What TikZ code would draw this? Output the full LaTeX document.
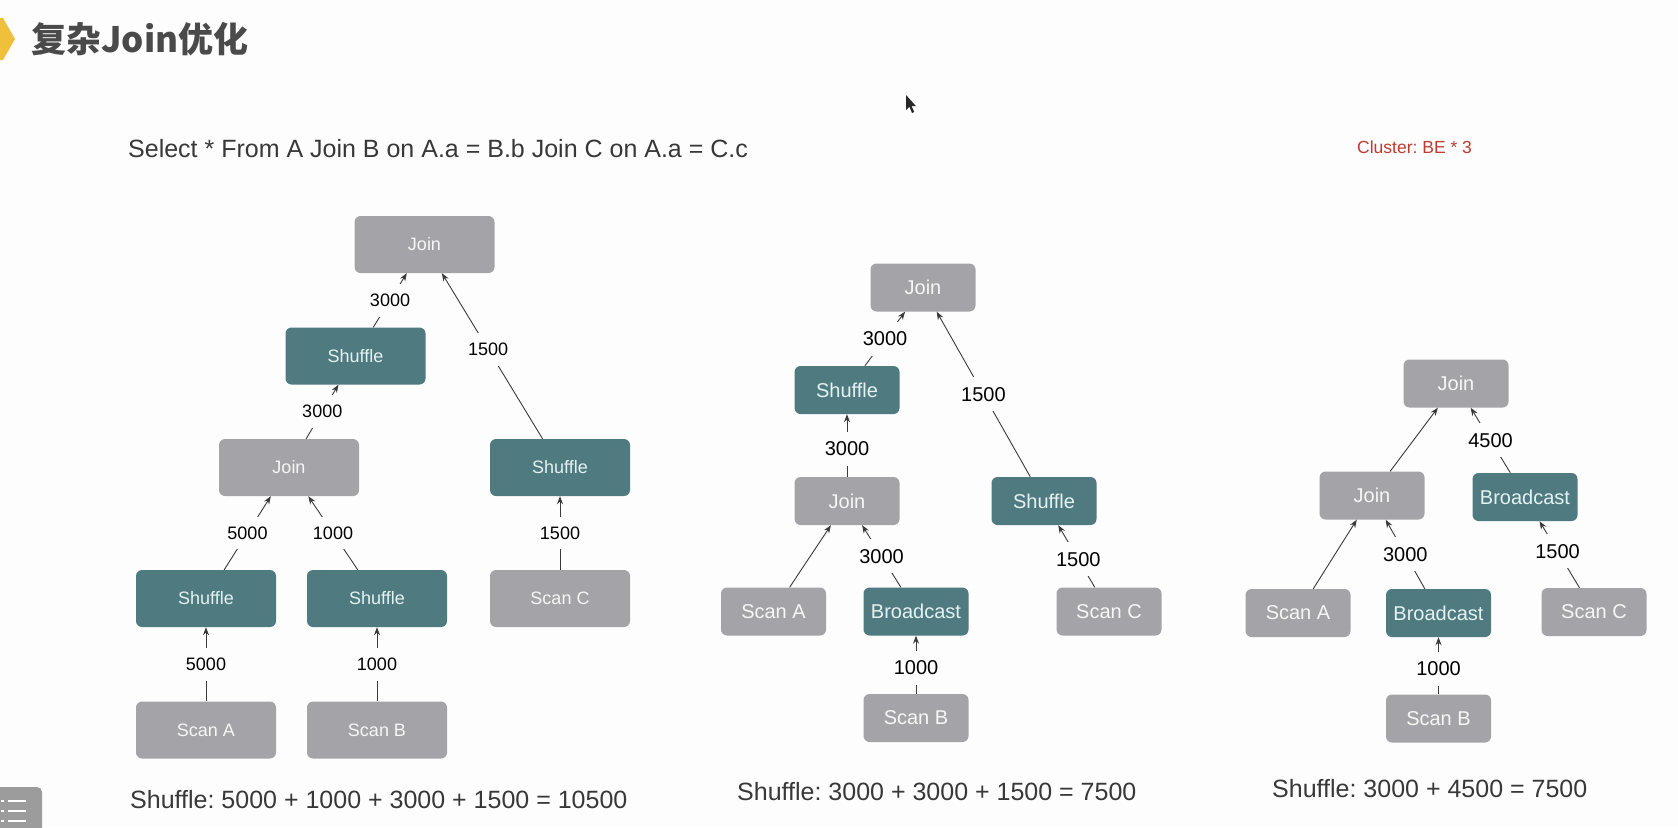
\documentclass[tikz,border=0pt]{standalone}
\usepackage{fontspec}
\setmainfont{Liberation Sans}
\newfontfamily\cjkfont{Noto Sans CJK SC}
\usetikzlibrary{arrows.meta}
\frenchspacing

\definecolor{pagebg}{HTML}{FDFDFD}
\definecolor{boxgrey}{HTML}{A4A3A7}
\definecolor{boxteal}{HTML}{4F7A80}
\definecolor{greytxt}{HTML}{F6F6F6}
\definecolor{tealtxt}{HTML}{E4F2F2}
\definecolor{inkdark}{HTML}{383838}
\definecolor{edgeink}{HTML}{3A3A3A}
\definecolor{clusterred}{HTML}{BF3B30}
\definecolor{titleink}{HTML}{4A4A4A}
\definecolor{marker}{HTML}{F0BF3C}
\definecolor{icongrey}{HTML}{9C9C9C}

\tikzset{
  plan/.style={rectangle, rounded corners=6pt, inner sep=0pt},
  bigbox/.style={plan, minimum width=140pt, minimum height=57pt, font=\fontsize{18}{20}\selectfont},
  smallbox/.style={plan, minimum width=105pt, minimum height=48pt, font=\fontsize{20}{22}\selectfont},
  gry/.style={fill=boxgrey, text=greytxt},
  tel/.style={fill=boxteal, text=tealtxt},
  flow/.style={draw=edgeink, line width=0.9pt, -{Stealth[length=8pt,width=6pt]}},
  cnt/.style={fill=pagebg, inner xsep=3pt, inner ysep=10pt, text=black},
  cntL/.style={cnt, font=\fontsize{18}{20}\selectfont},
  cntS/.style={cnt, font=\fontsize{20}{22}\selectfont},
  total/.style={anchor=base west, inner sep=0pt, text=inkdark, font=\fontsize{25}{28}\selectfont},
}

\begin{document}
\begin{tikzpicture}[x=1pt, y=-1pt]
  % page
  \fill[pagebg] (0,0) rectangle (1678,827);
  \useasboundingbox (0,0) rectangle (1678,827);

  % heading with marker
  \fill[marker] (0,18) -- (3,18) -- (15,39) -- (3,60) -- (0,60) -- cycle;
  \node[anchor=west, inner sep=0pt, text=titleink,
        font=\cjkfont\bfseries\fontsize{35}{40}\selectfont] (title) at (31,39) {复杂Join优化};

  % query and cluster
  \node[anchor=base west, inner sep=0pt, text=inkdark,
        font=\fontsize{25}{28}\selectfont] (query) at (128,157)
        {Select * From A Join B on A.a = B.b Join C on A.a = C.c};
  \node[anchor=base west, inner sep=0pt, text=clusterred,
        font=\fontsize{17.5}{20}\selectfont] (cluster) at (1357,153) {Cluster: BE * 3};

  % ---------- plan 1: all shuffle ----------
  \node[bigbox, gry] (LjoinTop) at (424.5,244.5) {Join};
  \node[bigbox, tel] (LshufJ)   at (355.5,356)   {Shuffle};
  \node[bigbox, gry] (LjoinAB)  at (289,467.5)   {Join};
  \node[bigbox, tel] (LshufC)   at (560,467.5)   {Shuffle};
  \node[bigbox, tel] (LshufA)   at (206,598.5)   {Shuffle};
  \node[bigbox, tel] (LshufB)   at (377,598.5)   {Shuffle};
  \node[bigbox, gry] (LscanC)   at (560,598.5)   {Scan C};
  \node[bigbox, gry] (LscanA)   at (206,730)     {Scan A};
  \node[bigbox, gry] (LscanB)   at (377,730)     {Scan B};

  \draw[flow] (LshufJ)  -- node[cntL] {3000} (LjoinTop);
  \draw[flow] (LshufC)  -- node[cntL, pos=0.54] {1500} (LjoinTop);
  \draw[flow] (LjoinAB) -- node[cntL] {3000} (LshufJ);
  \draw[flow] (LshufA)  -- node[cntL] {5000} (LjoinAB);
  \draw[flow] (LshufB)  -- node[cntL] {1000} (LjoinAB);
  \draw[flow] (LscanC)  -- node[cntL] {1500} (LshufC);
  \draw[flow] (LscanA)  -- node[cntL] {5000} (LshufA);
  \draw[flow] (LscanB)  -- node[cntL] {1000} (LshufB);

  \node[total] (Ltotal) at (130,808) {Shuffle: 5000 + 1000 + 3000 + 1500 = 10500};

  % ---------- plan 2: broadcast B ----------
  \node[smallbox, gry] (MjoinTop) at (923,287.5) {Join};
  \node[smallbox, tel] (MshufJ)   at (847,390)   {Shuffle};
  \node[smallbox, gry] (MjoinAB)  at (847,501)   {Join};
  \node[smallbox, tel] (MshufC)   at (1044,501)  {Shuffle};
  \node[smallbox, gry] (MscanA)   at (773.5,611.5) {Scan A};
  \node[smallbox, tel] (MbcastB)  at (916,611.5) {Broadcast};
  \node[smallbox, gry] (MscanC)   at (1109,611.5) {Scan C};
  \node[smallbox, gry] (MscanB)   at (916,718)   {Scan B};

  \draw[flow] (MshufJ)  -- node[cntS] {3000} (MjoinTop);
  \draw[flow] (MshufC)  -- node[cntS] {1500} (MjoinTop);
  \draw[flow] (MjoinAB) -- node[cntS, pos=0.45] {3000} (MshufJ);
  \draw[flow] (MscanA)  -- (MjoinAB);
  \draw[flow] (MbcastB) -- node[cntS] {3000} (MjoinAB);
  \draw[flow] (MscanC)  -- node[cntS, pos=0.45] {1500} (MshufC);
  \draw[flow] (MscanB)  -- node[cntS, pos=0.45] {1000} (MbcastB);

  \node[total] (Mtotal) at (737,800) {Shuffle: 3000 + 3000 + 1500 = 7500};

  % ---------- plan 3: broadcast B and C ----------
  \node[smallbox, gry] (RjoinTop) at (1456,383.5) {Join};
  \node[smallbox, gry] (RjoinAB)  at (1372,495.5) {Join};
  \node[smallbox, tel] (RbcastC)  at (1525,497)   {Broadcast};
  \node[smallbox, gry] (RscanA)   at (1298,613)   {Scan A};
  \node[smallbox, tel] (RbcastB)  at (1438.5,613) {Broadcast};
  \node[smallbox, gry] (RscanC)   at (1594,612)   {Scan C};
  \node[smallbox, gry] (RscanB)   at (1438.5,718.5) {Scan B};

  \draw[flow] (RjoinAB) -- (RjoinTop);
  \draw[flow] (RbcastC) -- node[cntS] {4500} (RjoinTop);
  \draw[flow] (RscanA)  -- (RjoinAB);
  \draw[flow] (RbcastB) -- node[cntS] {3000} (RjoinAB);
  \draw[flow] (RscanC)  -- node[cntS, pos=0.55] {1500} (RbcastC);
  \draw[flow] (RscanB)  -- node[cntS, pos=0.45] {1000} (RbcastB);

  \node[total] (Rtotal) at (1272,797) {Shuffle: 3000 + 4500 = 7500};

  % pointer
  \fill[black!85] (906,95) -- (906,110) -- (909.5,106.8) -- (912,113) -- (914.2,112) -- (911.6,106.2) -- (916,106.2) -- cycle;

  % list button in the corner
  \fill[icongrey, rounded corners=5pt] (-8,787) rectangle (42,835);
  \foreach \yy in {801,811,821} {
    \fill[white] (1,\yy-1.2) rectangle (4,\yy+1.2);
    \fill[white] (7.5,\yy-1.2) rectangle (26,\yy+1.2);
  }
\end{tikzpicture}
\end{document}
